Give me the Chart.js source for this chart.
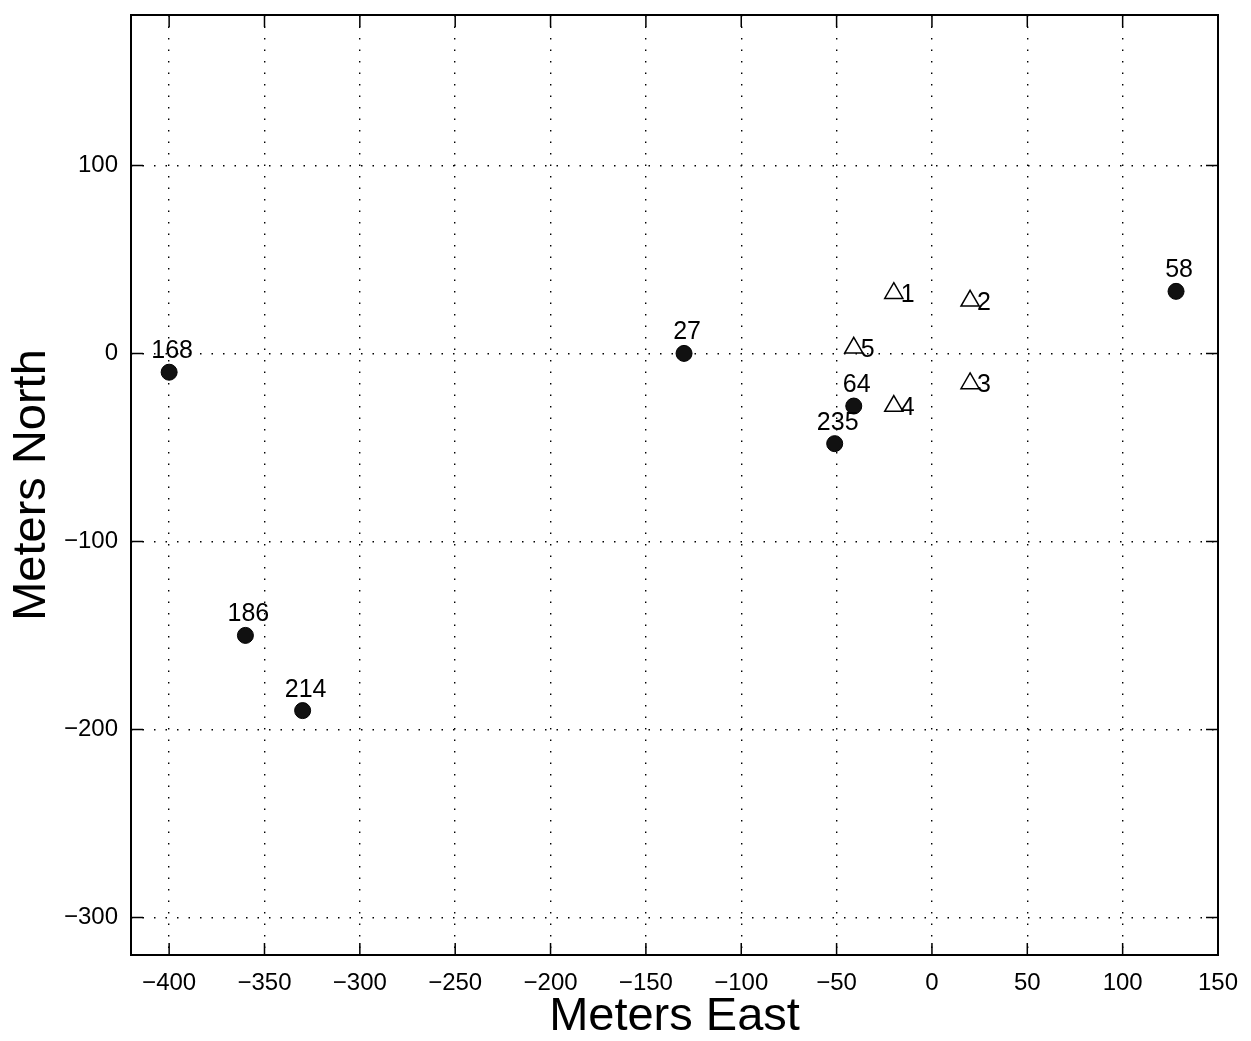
<!DOCTYPE html>
<html>
<head>
<meta charset="utf-8">
<script src="https://cdn.jsdelivr.net/npm/chart.js@4.4.1/dist/chart.umd.min.js"></script>
<style>
  html, body { margin: 0; padding: 0; background: #fff; }
</style>
</head>
<body>
<canvas id="myChart" width="1251" height="1041"></canvas>
<script>
// filled circles (numbered sites)
const siteLabels = ['168', '27', '64', '235', '58', '186', '214'];
const siteEast = [-400, -130, -41, -51, 128, -360, -330];
const siteNorth = [-10, 0, -28, -48, 33, -150, -190];

// open triangles (stations)
const stationLabels = ['1', '2', '3', '4', '5'];
const stationEast = [-20, 20, 20, -20, -41];
const stationNorth = [32, 28, -16, -28, 3];

const xTicks = [-400, -350, -300, -250, -200, -150, -100, -50, 0, 50, 100, 150];
const yTicks = [-300, -200, -100, 0, 100];

const FONT = '"Liberation Sans", Arial, Helvetica, sans-serif';

const minus = (v) => String(v).replace('-', '\u2212');

const whiteBg = {
    id: 'whiteBg',
    beforeDraw: (chart) => {
        const c = chart.ctx;
        c.save();
        c.fillStyle = '#fff';
        c.fillRect(0, 0, chart.width, chart.height);
        c.restore();
    }
};

// matlab style box with inward ticks
const frame = {
    id: 'frame',
    afterDraw: (chart) => {
        const c = chart.ctx;
        const a = chart.chartArea;
        const x = chart.scales.x;
        const y = chart.scales.y;
        const len = 12;
        c.save();
        c.strokeStyle = '#000';
        c.lineWidth = 1.5;
        c.beginPath();
        xTicks.forEach(v => {
            const px = x.getPixelForValue(v);
            c.moveTo(px, a.bottom);
            c.lineTo(px, a.bottom - len);
            c.moveTo(px, a.top);
            c.lineTo(px, a.top + len);
        });
        yTicks.forEach(v => {
            const py = y.getPixelForValue(v);
            c.moveTo(a.left, py);
            c.lineTo(a.left + len, py);
            c.moveTo(a.right, py);
            c.lineTo(a.right - len, py);
        });
        c.stroke();
        c.lineWidth = 2;
        c.strokeRect(a.left, a.top, a.right - a.left, a.bottom - a.top);
        c.restore();
    }
};

const pointLabels = {
    id: 'pointLabels',
    afterDatasetsDraw: (chart) => {
        const c = chart.ctx;
        c.save();
        c.fillStyle = '#000';
        c.font = '25px ' + FONT;
        c.textBaseline = 'alphabetic';

        c.textAlign = 'center';
        chart.getDatasetMeta(0).data.forEach((pt, i) => {
            c.fillText(siteLabels[i], pt.x + 3, pt.y - 14);
        });

        c.textAlign = 'left';
        chart.getDatasetMeta(1).data.forEach((pt, i) => {
            c.fillText(stationLabels[i], pt.x + 7, pt.y + 9);
        });
        c.restore();
    }
};

const ctx = document.getElementById('myChart').getContext('2d');

const myChart = new Chart(ctx, {
    type: 'scatter',
    data: {
        datasets: [{
            label: 'sites',
            data: siteEast.map((e, i) => ({x: e, y: siteNorth[i]})),
            pointStyle: 'circle',
            pointRadius: 8,
            borderWidth: 1,
            borderColor: '#000',
            backgroundColor: '#111'
        }, {
            label: 'stations',
            data: stationEast.map((e, i) => ({x: e, y: stationNorth[i]})),
            pointStyle: 'triangle',
            pointRadius: 10.5,
            borderWidth: 1.5,
            borderColor: '#000',
            backgroundColor: 'rgba(255,255,255,0)'
        }]
    },
    options: {
        responsive: false,
        animation: false,
        layout: {
            padding: {top: 15, right: 33, left: 0, bottom: 0}
        },
        plugins: {
            legend: {display: false},
            tooltip: {enabled: false}
        },
        scales: {
            x: {
                type: 'linear',
                min: -420,
                max: 150,
                afterBuildTicks: (s) => { s.ticks = xTicks.map(v => ({value: v})); },
                afterFit: (s) => {
                    s.height = 86;
                    s.paddingLeft = 0;
                    s.paddingRight = 0;
                },
                grid: {color: '#000', lineWidth: 1.4, drawTicks: false},
                border: {display: false, dash: [1.5, 10]},
                ticks: {
                    color: '#000',
                    padding: 14,
                    maxRotation: 0,
                    font: {family: FONT, size: 24},
                    callback: (v) => minus(v)
                },
                title: {
                    display: true,
                    text: 'Meters East',
                    color: '#000',
                    font: {family: FONT, size: 47, lineHeight: 1.0},
                    padding: {top: 0, bottom: 0}
                }
            },
            y: {
                type: 'linear',
                min: -320,
                max: 180,
                afterBuildTicks: (s) => { s.ticks = yTicks.map(v => ({value: v})); },
                afterFit: (s) => {
                    s.width = 131;
                    s.paddingTop = 0;
                    s.paddingBottom = 0;
                },
                grid: {color: '#000', lineWidth: 1.4, drawTicks: false},
                border: {display: false, dash: [1.5, 10]},
                ticks: {
                    color: '#000',
                    padding: 13,
                    font: {family: FONT, size: 24},
                    callback: (v) => minus(v)
                },
                title: {
                    display: true,
                    text: 'Meters North',
                    color: '#000',
                    font: {family: FONT, size: 47},
                    padding: {top: 4, bottom: 0}
                }
            }
        }
    },
    plugins: [whiteBg, frame, pointLabels]
});
</script>
</body>
</html>
